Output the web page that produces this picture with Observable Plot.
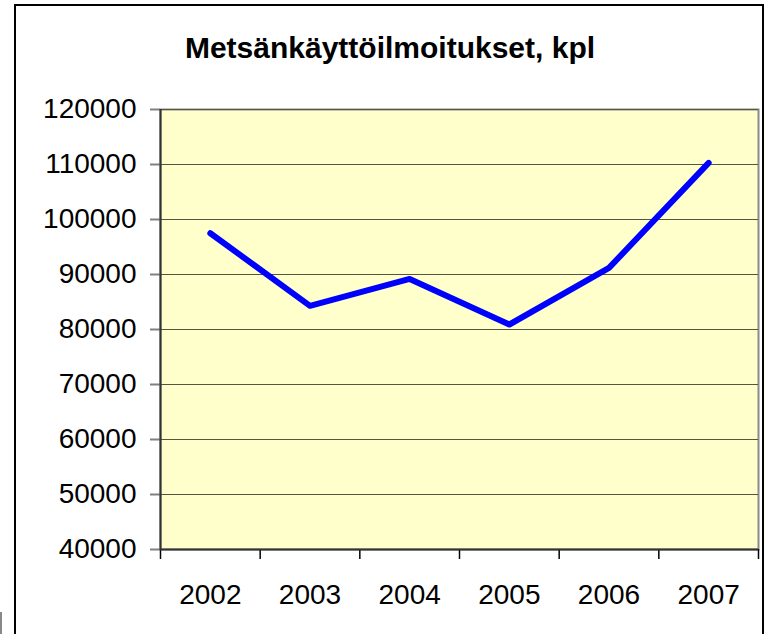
<!DOCTYPE html>
<html>
<head>
<meta charset="utf-8">
<script src="https://cdn.jsdelivr.net/npm/d3@7"></script>
<script src="https://cdn.jsdelivr.net/npm/@observablehq/plot@0.6"></script>
<style>
  html, body { margin: 0; padding: 0; background: #fff; }
  #wrap { position: relative; width: 769px; height: 634px; overflow: hidden; font-family: "Liberation Sans", Arial, sans-serif; }
  #frame { position: absolute; left: 14px; top: 4px; width: 750px; height: 660px; border: 2px solid #000; box-sizing: border-box; }
  #stub { position: absolute; left: 0; top: 612px; width: 2px; height: 22px; background: #888; }
  #title { position: absolute; left: 0; top: 33px; width: 780px; text-align: center; font-weight: bold; font-size: 30px; line-height: 30px; color: #000; margin: 0; }
  #chart { position: absolute; left: 0; top: 0; }
</style>
</head>
<body>
<div id="wrap">
  <div id="frame"></div>
  <div id="stub"></div>
  <div id="title">Metsänkäyttöilmoitukset, kpl</div>
  <div id="chart"></div>
</div>
<script>
const years = [2002, 2003, 2004, 2005, 2006, 2007];
const values = [97500, 84300, 89200, 80900, 91200, 110300];
const yTicks = [40000, 50000, 60000, 70000, 80000, 90000, 100000, 110000, 120000];
const xEdges = [2001.5, 2002.5, 2003.5, 2004.5, 2005.5, 2006.5, 2007.5];

const data = years.map((y, i) => ({year: y, value: values[i]}));

const chart = Plot.plot({
  width: 769,
  height: 634,
  marginTop: 109,
  marginBottom: 85,
  marginLeft: 160,
  marginRight: 11,
  style: {fontFamily: "'Liberation Sans', Arial, sans-serif", background: "transparent", overflow: "visible"},
  x: {type: "linear", domain: [2001.5, 2007.5]},
  y: {domain: [40000, 120000]},
  marks: [
    Plot.frame({fill: "#FFFFCC", stroke: "#8a8a8a", strokeWidth: 2}),
    Plot.gridY(yTicks, {stroke: "#555540", strokeOpacity: 1, strokeWidth: 1}),
    Plot.axisY(yTicks, {tickSize: 10, tickPadding: 14, stroke: "#808080", strokeWidth: 2, fontSize: 28, fill: "#000", tickFormat: d => String(d), label: null}),
    Plot.axisX(years, {tickSize: 0, tickPadding: 35, fontSize: 28, fill: "#000", tickFormat: d => String(d), label: null}),
    Plot.axisX(xEdges, {tickSize: 10, stroke: "#000", strokeWidth: 1.5, tickFormat: () => "", label: null}),
    Plot.ruleX([2001.5], {stroke: "#333", strokeWidth: 2}),
    Plot.ruleY([40000], {stroke: "#333", strokeWidth: 2}),
    Plot.line(data, {x: "year", y: "value", stroke: "#0000FF", strokeWidth: 6, strokeLinecap: "round", strokeLinejoin: "round"})
  ]
});
document.getElementById("chart").appendChild(chart);
</script>
</body>
</html>
